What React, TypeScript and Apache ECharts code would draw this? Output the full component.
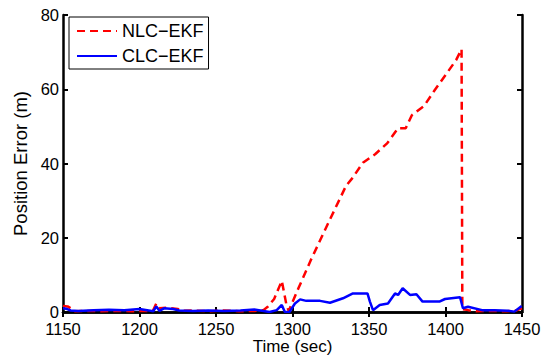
import React, { useEffect, useRef } from "react";
import * as echarts from "echarts";

const nlcTime = [1150, 1153, 1155, 1157, 1165, 1175, 1185, 1195, 1205, 1209, 1211, 1213, 1218, 1225, 1228, 1235, 1245, 1255, 1265, 1275, 1281, 1284, 1288, 1293, 1296, 1297.5, 1304, 1312, 1324, 1335, 1339, 1346, 1354, 1362, 1369, 1374, 1378, 1386, 1393, 1401, 1407, 1410.5, 1411, 1415, 1420, 1430, 1440, 1446, 1450];
const nlcValue = [1.6, 1.5, 1.0, 0.2, 0.3, 0.2, 0.3, 0.2, 0.3, 0.5, 2.3, 1.0, 1.2, 0.8, 0.3, 0.4, 0.2, 0.4, 0.2, 0.3, 0.5, 1.5, 3.5, 8.4, 2.0, 0.3, 6.5, 14, 24.5, 34, 36, 40.2, 42.5, 45.5, 49.5, 49.5, 53, 55.5, 59.8, 64.4, 67.9, 70.8, 0.8, 0.5, 0.2, 0.3, 0.2, 0.4, 1.0];

const clcTime = [1150, 1152, 1155, 1160, 1170, 1180, 1190, 1200, 1205, 1209, 1211, 1213, 1216, 1222, 1226, 1235, 1245, 1255, 1266, 1275, 1285, 1289.7, 1293, 1295, 1298, 1301.6, 1305, 1309, 1318, 1324.5, 1333, 1339.5, 1349, 1350.6, 1352.6, 1357, 1362.4, 1367, 1369, 1372, 1376.8, 1381, 1385, 1396, 1399.7, 1409.5, 1411.4, 1414.7, 1423.9, 1432, 1440.8, 1445, 1449.8];
const clcValue = [1.0, 0.9, 0.4, 0.3, 0.5, 0.6, 0.5, 0.8, 0.5, 0.2, 1.5, 0.3, 1.0, 0.8, 0.4, 0.3, 0.4, 0.3, 0.4, 0.7, 0.0, 0.5, 1.9, 0.0, 0.0, 2.3, 3.4, 3.0, 3.0, 2.5, 3.7, 5.0, 5.0, 2.8, 0.5, 1.9, 2.3, 5.0, 4.6, 6.4, 4.6, 4.8, 2.8, 2.8, 3.5, 4.0, 1.0, 1.4, 0.5, 0.5, 0.35, 0.1, 1.6];

const xTicks = [1150, 1200, 1250, 1300, 1350, 1400, 1450];
const yTicks = [0, 20, 40, 60, 80];

const FONT = "Liberation Sans";

export default function App() {
  const ref = useRef<HTMLDivElement>(null);
  useEffect(() => {
    if (!ref.current) return;
    const chart = echarts.init(ref.current, null, { renderer: "svg" });
    const axisLine = { show: true, lineStyle: { color: "#000", width: 2.5 } };
    const tickInside = { show: true, inside: true, length: 5, lineStyle: { color: "#000", width: 2 } };
    chart.setOption({
      animation: false,
      backgroundColor: "#fff",
      grid: { left: 63, right: 27, top: 15, bottom: 46, containLabel: false, outerBoundsMode: "none" },
      legend: {
        show: true,
        orient: "vertical",
        left: 69,
        top: 17,
        itemWidth: 40,
        itemHeight: 12,
        itemGap: 7,
        padding: [5, 5, 4, 7],
        borderColor: "#000",
        borderWidth: 1,
        backgroundColor: "#fff",
        itemStyle: { opacity: 0 },
        textStyle: { fontFamily: FONT, fontSize: 18, color: "#000" },
        data: ["NLC\u2212EKF", "CLC\u2212EKF"],
      },
      xAxis: [
        {
          type: "value",
          min: 1150,
          max: 1450,
          interval: 50,
          axisLine,
          axisTick: tickInside,
          splitLine: { show: false },
          axisLabel: {
            fontFamily: FONT,
            fontSize: 16.5,
            lineHeight: 14,
            color: "#000",
            margin: 10,
            customValues: xTicks,
            formatter: (v: number) => String(v),
          },
          name: "Time (sec)",
          nameLocation: "middle",
          nameGap: 27,
          nameMoveOverlap: false,
          nameTextStyle: { fontFamily: FONT, fontSize: 17, lineHeight: 14, color: "#000" },
        },
        {
          type: "value",
          position: "top",
          min: 1150,
          max: 1450,
          interval: 50,
          axisLine,
          axisTick: tickInside,
          axisLabel: { show: false },
          splitLine: { show: false },
        },
      ],
      yAxis: [
        {
          type: "value",
          min: 0,
          max: 80,
          interval: 20,
          axisLine,
          axisTick: tickInside,
          splitLine: { show: false },
          axisLabel: {
            fontFamily: FONT,
            fontSize: 16.5,
            lineHeight: 14,
            color: "#000",
            margin: 4,
            customValues: yTicks,
            formatter: (v: number) => String(v),
          },
          name: "Position Error (m)",
          nameLocation: "middle",
          nameGap: 33,
          nameMoveOverlap: false,
          nameTextStyle: { fontFamily: FONT, fontSize: 18.5, color: "#000" },
        },
        {
          type: "value",
          position: "right",
          min: 0,
          max: 80,
          interval: 20,
          axisLine,
          axisTick: tickInside,
          axisLabel: { show: false },
          splitLine: { show: false },
        },
      ],
      series: [
        {
          name: "NLC\u2212EKF",
          type: "line",
          symbol: "none",
          showSymbol: false,
          data: nlcTime.map((t, i) => [t, nlcValue[i]]),
          lineStyle: { color: "#ff0000", width: 2.5, type: [8, 5] },
          itemStyle: { color: "#ff0000" },
          z: 3,
        },
        {
          name: "CLC\u2212EKF",
          type: "line",
          symbol: "none",
          showSymbol: false,
          data: clcTime.map((t, i) => [t, clcValue[i]]),
          lineStyle: { color: "#0000ff", width: 2.5 },
          itemStyle: { color: "#0000ff" },
          z: 4,
        },
      ],
    });
    return () => chart.dispose();
  }, []);
  return <div ref={ref} style={{ width: 549, height: 358, position: "absolute", left: 0, top: 0 }} />;
}
